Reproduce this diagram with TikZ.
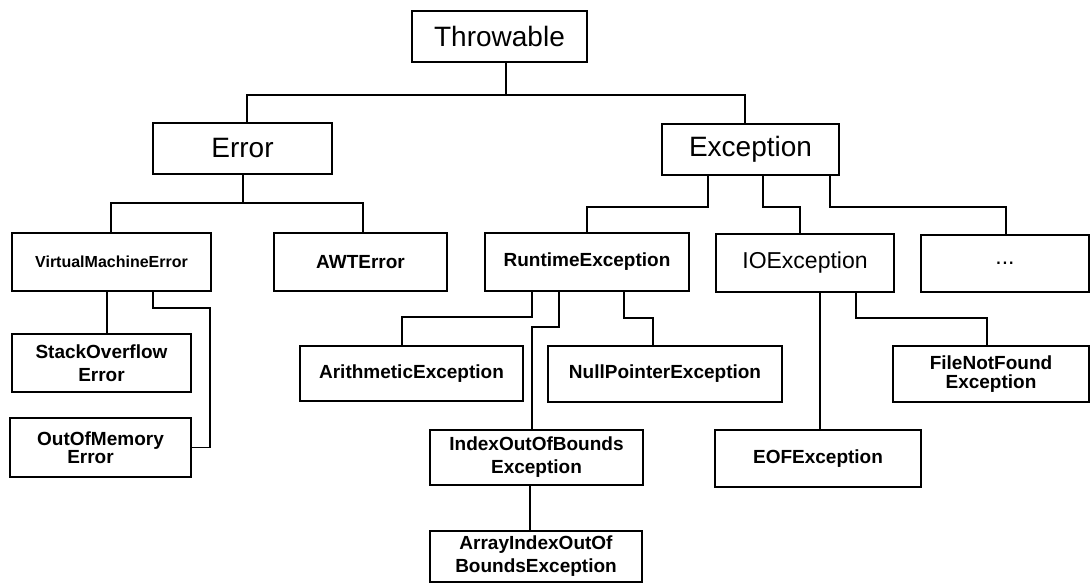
\documentclass[tikz,border=0pt]{standalone}
\usepackage{fontspec}
\setmainfont{Liberation Sans}
\newcommand\bx[7][]{\node[box,#1,minimum width={(#4-#2)*1pt},minimum height={(#5-#3)*1pt}] (#6) at ({(#2+#4)/2},{(#3+#5)/2}) {#7};}
\tikzset{
  box/.style={draw, line width=2.3pt, inner sep=0pt, outer sep=0pt, align=center, font=\fontsize{19}{23}\selectfont\bfseries},
  big/.style={font=\fontsize{28}{30}\selectfont},
  mid/.style={font=\fontsize{23}{26}\selectfont},
  tiny/.style={font=\fontsize{16}{19}\selectfont\bfseries},
  link/.style={draw, line width=1.4pt}
}
\begin{document}
\begin{tikzpicture}[x=1pt,y=-1pt]
\fill[white] (0,0) rectangle (1092,584);
\useasboundingbox (0,0) rectangle (1092,584);
% boxes
\bx[big]{412}{11}{587}{62}{thr}{Throwable}
\bx[big]{153}{123}{332}{174}{err}{Error}
\bx[big]{662}{124}{839}{175}{exc}{Exception}
\bx[tiny]{12}{233}{211}{291}{vme}{VirtualMachineError}
\bx{274}{233}{447}{291}{awt}{AWTError}
\bx{485}{233}{689}{291}{rte}{RuntimeException}
\bx[mid]{716}{234}{894}{292}{ioe}{IOException}
\bx[mid]{921}{235}{1089}{292}{dots}{...}
\bx{12}{334}{191}{392}{sof}{StackOverflow\\Error}
\bx[font=\fontsize{19}{18}\selectfont\bfseries]{10}{418}{191}{477}{oom}{OutOfMemory\\Error\hspace*{20pt}}
\bx{300}{346}{523}{401}{ari}{ArithmeticException}
\bx{548}{346}{782}{402}{npe}{NullPointerException}
\bx{430}{430}{643}{485}{iob}{IndexOutOfBounds\\Exception}
\bx{430}{531}{642}{582}{aio}{ArrayIndexOutOf\\BoundsException}
\bx{715}{430}{921}{487}{eof}{EOFException}
\bx[font=\fontsize{19}{19}\selectfont\bfseries]{893}{346}{1089}{402}{fnf}{FileNotFound\\Exception}
% connectors
\path[link] ([xshift=6.5]thr.south) -- ++(0,33) -| ([xshift=4.5]err.north);
\path[link] ([xshift=6.5]thr.south) -- ++(0,33) -| ([xshift=-5.5]exc.north);
\path[link] ([xshift=0.5]err.south) -- ++(0,29) -| ([xshift=-0.5]vme.north);
\path[link] ([xshift=0.5]err.south) -- ++(0,29) -| ([xshift=2.5]awt.north);
\path[link] ([xshift=-42.5]exc.south) -- ++(0,32) -| (rte.north);
\path[link] ([xshift=12.5]exc.south) -- ++(0,32) -| ([xshift=-5]ioe.north);
\path[link] ([xshift=79.5]exc.south) -- ++(0,32) -| ([xshift=1]dots.north);
\path[link] ([xshift=-4.5]vme.south) -- ([xshift=5.5]sof.north);
\path[link] ([xshift=41.5]vme.south) -- ++(0,17) -- ++(57,0) |- (oom.east);
\path[link] ([xshift=-55]rte.south) -- ++(0,26) -| ([xshift=-9.5]ari.north);
\path[link] ([xshift=-28]rte.south) -- ++(0,36) -| ([xshift=-4.5]iob.north);
\path[link] ([xshift=37]rte.south) -- ++(0,27) -| ([xshift=-12]npe.north);
\path[link] ([xshift=-6.5]iob.south) -- ([xshift=-6]aio.north);
\path[link] ([xshift=15]ioe.south) -- ([xshift=2]eof.north);
\path[link] ([xshift=51]ioe.south) -- ++(0,26) -| ([xshift=-4]fnf.north);
\end{tikzpicture}
\end{document}
